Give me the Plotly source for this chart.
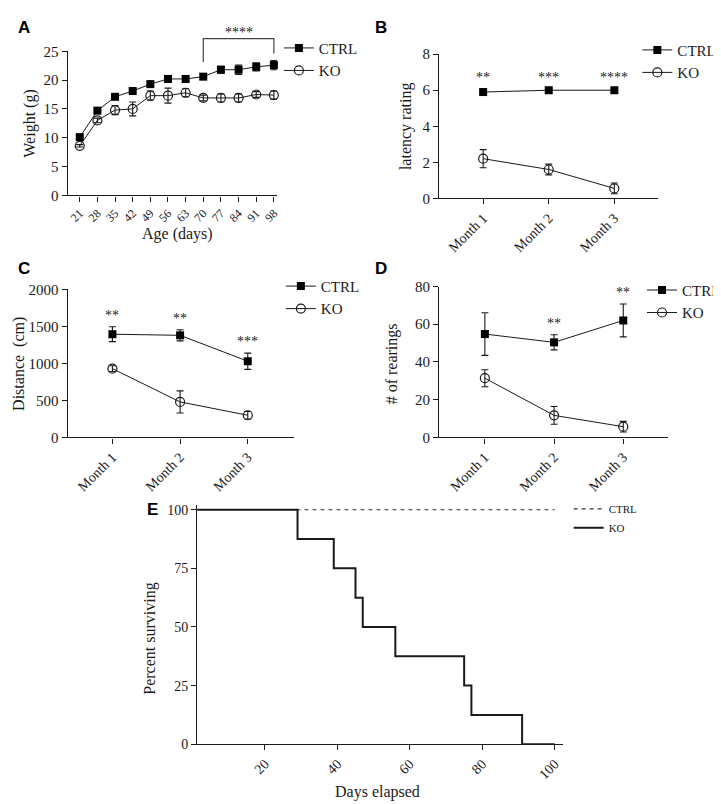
import plotly.graph_objects as go

W, H = 721, 804
SERIF = "Liberation Serif"
SANS = "Liberation Sans"
INK = "#1a1a1a"

# ---------------- data ----------------
age_days = ["21", "28", "35", "42", "49", "56", "63", "70", "77", "84", "91", "98"]
weight_ctrl = [10.1, 14.7, 17.1, 18.1, 19.3, 20.2, 20.2, 20.6, 21.8, 21.8, 22.3, 22.6]
weight_ctrl_err = [0.4, 0.3, 0.3, 0.5, 0.5, 0.6, 0.6, 0.5, 0.6, 0.8, 0.7, 0.8]
weight_ko = [8.6, 13.0, 14.8, 15.0, 17.3, 17.3, 17.8, 16.9, 16.9, 16.9, 17.5, 17.4]
weight_ko_err = [0.2, 0.4, 0.8, 1.2, 0.8, 1.3, 0.7, 0.5, 0.7, 0.7, 0.5, 0.7]
weight_sig = {"21": "*", "28": "*", "42": "*", "63": "*"}

months = ["Month 1", "Month 2", "Month 3"]
latency_ctrl = [5.9, 6.0, 6.0]
latency_ctrl_err = [0.05, 0.05, 0.05]
latency_ko = [2.2, 1.6, 0.55]
latency_ko_err = [0.5, 0.3, 0.3]
latency_sig = ["**", "***", "****"]

distance_ctrl = [1395, 1380, 1030]
distance_ctrl_err = [100, 75, 110]
distance_ko = [930, 480, 300]
distance_ko_err = [38, 150, 50]
distance_sig = ["**", "**", "***"]

rearing_ctrl = [54.8, 50.4, 62.0]
rearing_ctrl_err = [11.3, 4.0, 8.7]
rearing_ko = [31.4, 11.7, 5.7]
rearing_ko_err = [4.5, 4.7, 2.8]
rearing_sig = ["", "**", "**"]

surv_ctrl_days = [0, 100]
surv_ctrl_pct = [100, 100]
surv_ko_days = [0, 29, 39, 45, 47, 56, 75, 77, 91, 100]
surv_ko_pct = [100, 87.5, 75, 62.5, 50, 37.5, 25, 12.5, 0, 0]


def px_x(p):
    return p / W


def px_y(p):
    return 1 - p / H


fig = go.Figure()

# panel geometry in pixels: (left, right, top, bottom)
panels = {
    "A": dict(ax="", box=(60, 270, 36, 183)),
    "B": dict(ax="2", box=(433, 653, 39, 186)),
    "C": dict(ax="3", box=(60, 287, 279, 430)),
    "D": dict(ax="4", box=(433, 663, 276, 430)),
    "E": dict(ax="5", box=(190, 557, 499, 743)),
}

axis_common = dict(
    showline=True, linecolor=INK, linewidth=1.3, mirror=False,
    ticks="outside", ticklen=5, tickwidth=1.2, tickcolor=INK,
    showgrid=False, zeroline=False,
    tickfont=dict(family=SERIF, size=15, color=INK),
)

ranges = {
    "A": dict(x=[-0.68, 11.17], y=[0, 25], ydt=5),
    "B": dict(x=[-0.67, 2.67], y=[0, 8], ydt=2),
    "C": dict(x=[-0.66, 2.68], y=[0, 2000], ydt=500),
    "D": dict(x=[-0.66, 2.65], y=[0, 80], ydt=20),
    "E": dict(x=[1.3, 102.2], y=[0, 102], ydt=25),
}

# (x px, y px, xanchor)
legend_pos = {
    "A": (272, 16, "left"),
    "B": (632, 18, "left"),
    "C": (274, 259, "left"),
    "D": (721, 263, "right"),
}

for key, p in panels.items():
    ax = p["ax"]
    l, r, t, b = p["box"]
    xname = "xaxis" + ax
    yname = "yaxis" + ax
    xa = dict(axis_common)
    ya = dict(axis_common)
    xa.update(domain=[px_x(l), px_x(r)], anchor="y" + ax, range=ranges[key]["x"])
    ya.update(domain=[px_y(b), px_y(t)], anchor="x" + ax, range=ranges[key]["y"],
              dtick=ranges[key]["ydt"], tick0=0)
    if key == "A":
        xa.update(type="category", tickangle=-45,
                  tickfont=dict(family=SERIF, size=12, color=INK))
    elif key == "E":
        xa.update(tickvals=[20, 40, 60, 80, 100], tickangle=-45,
                  tickfont=dict(family=SERIF, size=14, color=INK))
        ya.update(tickvals=[0, 25, 50, 75, 100],
                  tickfont=dict(family=SERIF, size=14, color=INK))
    else:
        xa.update(type="category", tickangle=-45,
                  tickfont=dict(family=SERIF, size=14, color=INK))
    fig.layout[xname] = xa
    fig.layout[yname] = ya


def add_pair(key, xs, c, ce, k, ke):
    ax = panels[key]["ax"]
    lg = "legend" if ax == "" else "legend" + ax
    fig.add_trace(go.Scatter(
        x=xs, y=k, name="KO", legend=lg, mode="lines+markers",
        xaxis="x" + ax, yaxis="y" + ax,
        line=dict(color=INK, width=1),
        marker=dict(symbol="circle-open", size=9, color=INK, line=dict(width=1.2)),
        error_y=dict(type="data", array=ke, color=INK, thickness=1.1, width=3.5),
        cliponaxis=False, showlegend=True, legendrank=2,
    ))
    fig.add_trace(go.Scatter(
        x=xs, y=c, name="CTRL", legend=lg, mode="lines+markers",
        xaxis="x" + ax, yaxis="y" + ax,
        line=dict(color=INK, width=1),
        marker=dict(symbol="square", size=8, color="black"),
        error_y=dict(type="data", array=ce, color=INK, thickness=1.1, width=3.5),
        cliponaxis=False, showlegend=True, legendrank=1,
    ))


add_pair("A", age_days, weight_ctrl, weight_ctrl_err, weight_ko, weight_ko_err)
add_pair("B", months, latency_ctrl, latency_ctrl_err, latency_ko, latency_ko_err)
add_pair("C", months, distance_ctrl, distance_ctrl_err, distance_ko, distance_ko_err)
add_pair("D", months, rearing_ctrl, rearing_ctrl_err, rearing_ko, rearing_ko_err)

# survival
fig.add_trace(go.Scatter(
    x=surv_ctrl_days, y=surv_ctrl_pct, name="CTRL", legend="legend5",
    xaxis="x5", yaxis="y5", mode="lines",
    line=dict(color="#333333", width=1.2, dash="4px,4px"), legendrank=1,
))
fig.add_trace(go.Scatter(
    x=surv_ko_days, y=surv_ko_pct, name="KO", legend="legend5",
    xaxis="x5", yaxis="y5", mode="lines", line_shape="hv",
    line=dict(color=INK, width=2), legendrank=2,
))

# legends
leg_common = dict(
    font=dict(family=SERIF, size=15, color=INK),
    bgcolor="rgba(0,0,0,0)", borderwidth=0,
    xanchor="left", yanchor="top", itemwidth=30,
    tracegroupgap=0, traceorder="normal",
)
for key, (lx, ly, xa_) in legend_pos.items():
    ax = panels[key]["ax"]
    name = "legend" if ax == "" else "legend" + ax
    d = dict(leg_common)
    d.update(x=px_x(lx), y=px_y(ly), xanchor=xa_)
    fig.layout[name] = d
d = dict(leg_common)
d.update(x=px_x(563), y=px_y(488), font=dict(family=SERIF, size=11, color=INK))
fig.layout["legend5"] = d

ann = []


def star(xref, yref, x, y, text):
    ann.append(dict(xref=xref, yref=yref, x=x, y=y, text=text, showarrow=False,
                    font=dict(family=SERIF, size=14, color=INK),
                    xanchor="center", yanchor="middle"))


# significance stars (placed above the CTRL error bar)
for i, d_ in enumerate(age_days):
    if d_ in weight_sig:
        star("x", "y", d_, weight_ctrl[i] + weight_ctrl_err[i] + 1.6, weight_sig[d_])
for i, m in enumerate(months):
    star("x2", "y2", m, 6.7, latency_sig[i])
    star("x3", "y3", m, distance_ctrl[i] + distance_ctrl_err[i] + 150, distance_sig[i])
    if rearing_sig[i]:
        star("x4", "y4", m, rearing_ctrl[i] + rearing_ctrl_err[i] + 6, rearing_sig[i])

# bracket for ages 70-98
fig.add_shape(type="path", xref="x", yref="y domain",
              path="M 7,0.925 L 7,1.088 L 11,1.088 L 11,0.985",
              line=dict(color="#444444", width=1.2))
star("x", "y domain", 9, 1.13, "****")

# panel letters
for letter, (lx, ly) in {"A": (8, 12), "B": (367, 12), "C": (8, 258), "D": (367, 258),
                         "E": (138, 504)}.items():
    ann.append(dict(xref="paper", yref="paper", x=px_x(lx), y=px_y(ly), text="<b>%s</b>" % letter,
                    showarrow=False, xanchor="left", yanchor="middle",
                    font=dict(family=SANS, size=17, color="black")))

# axis titles
titles = [
    ("Weight (g)", 22, 110, -90),
    ("Age (days)", 170, 222, 0),
    ("latency rating", 399, 112, -90),
    ("Distance  (cm)", 11, 355, -90),
    ("# of rearings", 386, 355, -90),
    ("Percent surviving", 143, 635, -90),
    ("Days elapsed", 371, 792, 0),
]
for txt, tx, ty, ang in titles:
    ann.append(dict(xref="paper", yref="paper", x=px_x(tx), y=px_y(ty), text=txt,
                    showarrow=False, xanchor="center", yanchor="middle", textangle=ang,
                    font=dict(family=SERIF, size=16, color=INK)))

fig.update_layout(
    width=W, height=H, margin=dict(l=0, r=0, t=0, b=0),
    paper_bgcolor="white", plot_bgcolor="white",
    annotations=ann, showlegend=True,
)

fig.write_html("out.html")
